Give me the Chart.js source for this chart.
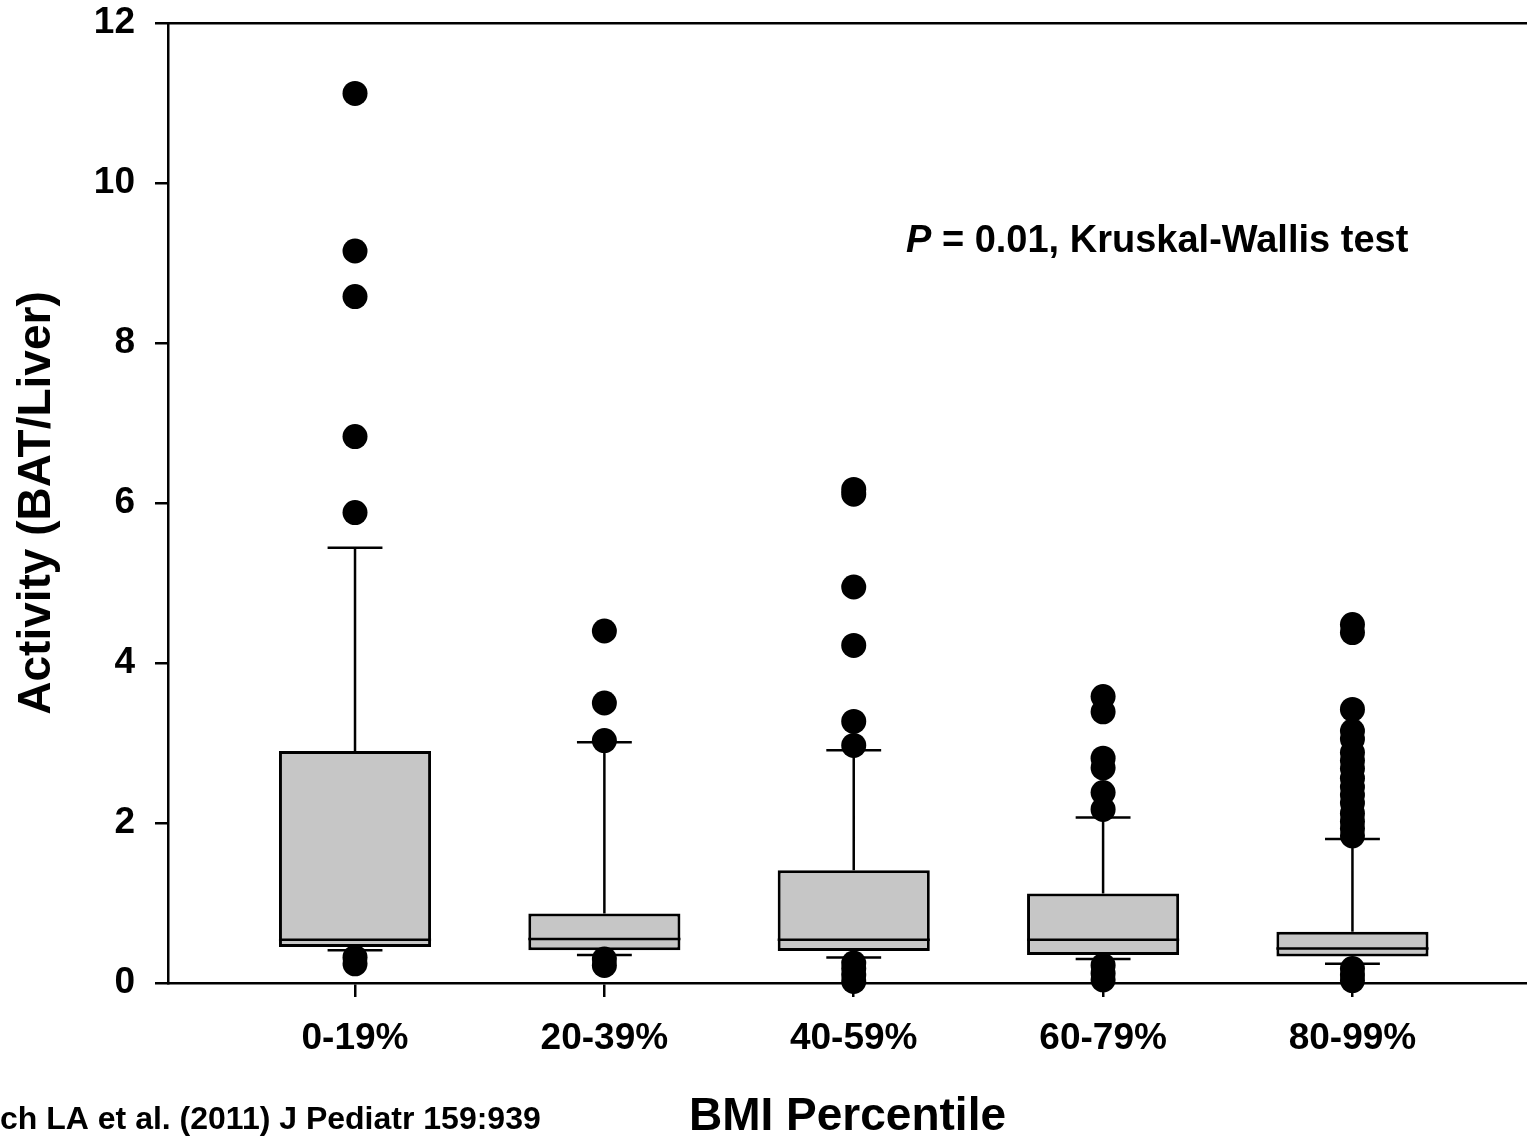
<!DOCTYPE html>
<html>
<head>
<meta charset="utf-8">
<script src="https://cdn.jsdelivr.net/npm/chart.js@4.4.1/dist/chart.umd.min.js"></script>
<style>
html, body { margin: 0; padding: 0; background: #fff; overflow: hidden; }
canvas { display: block; }
</style>
</head>
<body>
<canvas class="grafico" width="1527" height="1140"></canvas>
<script>
const canvas = document.querySelector('.grafico');

// box plot data
const categories = ['0-19%', '20-39%', '40-59%', '60-79%', '80-99%'];
const q1 = [0.45, 0.41, 0.40, 0.35, 0.33];
const medians = [0.54, 0.55, 0.54, 0.54, 0.43];
const q3 = [2.90, 0.87, 1.41, 1.12, 0.64];
const whiskerLow = [0.41, 0.35, 0.32, 0.30, 0.24];
const whiskerHigh = [5.44, 3.01, 2.91, 2.07, 1.80];

const outliers0 = [11.12, 9.15, 8.58, 6.83, 5.88, 0.32, 0.24];
const outliers1 = [4.40, 3.50, 3.03, 0.30, 0.22];
const outliers2 = [6.17, 6.11, 4.95, 4.22, 3.27, 2.97, 0.25, 0.18, 0.10, 0.02];
const outliers3 = [3.58, 3.39, 2.81, 2.69, 2.38, 2.17, 0.22, 0.12, 0.04];
const outliers4 = [4.48, 4.38, 3.42, 3.15, 3.05, 2.88, 2.78, 2.68, 2.56, 2.45, 2.35,
                   2.25, 2.12, 2.02, 1.93, 1.84, 0.18, 0.10, 0.03];
const outliers = [outliers0, outliers1, outliers2, outliers3, outliers4];

const yTicks = [0, 2, 4, 6, 8, 10, 12];

const fontFamily = "'Liberation Sans', Arial, sans-serif";
Chart.defaults.font.family = fontFamily;
Chart.defaults.font.weight = 'bold';
Chart.defaults.color = '#000';

const boxHalf = 0.305;
const capHalf = 0.11;

// whiskers and caps as line segments with gaps
const whiskerData = [];
categories.forEach((c, i) => {
    const x = i + 1;
    whiskerData.push({ x: x, y: q3[i] }, { x: x, y: whiskerHigh[i] }, { x: x, y: null });
    whiskerData.push({ x: x - capHalf, y: whiskerHigh[i] }, { x: x + capHalf, y: whiskerHigh[i] }, { x: x, y: null });
    whiskerData.push({ x: x, y: q1[i] }, { x: x, y: whiskerLow[i] }, { x: x, y: null });
    whiskerData.push({ x: x - capHalf, y: whiskerLow[i] }, { x: x + capHalf, y: whiskerLow[i] }, { x: x, y: null });
});

const medianData = [];
medians.forEach((m, i) => {
    const x = i + 1;
    medianData.push({ x: x - boxHalf, y: m }, { x: x + boxHalf, y: m }, { x: x, y: null });
});

const outlierData = [];
outliers.forEach((list, i) => {
    list.forEach((v) => outlierData.push({ x: i + 1, y: v }));
});

const textos = {
    id: 'textos',
    afterDraw(chart) {
        const ctx = chart.ctx;
        ctx.save();
        ctx.fillStyle = '#000';
        ctx.textBaseline = 'middle';
        ctx.textAlign = 'left';
        ctx.font = `italic bold 38px ${fontFamily}`;
        let x = 906;
        ctx.fillText('P', x, 242);
        x += ctx.measureText('P').width;
        ctx.font = `bold 38px ${fontFamily}`;
        ctx.fillText(' = 0.01, Kruskal-Wallis test', x, 242);
        ctx.font = `bold 32px ${fontFamily}`;
        ctx.fillText('ch LA et al. (2011) J Pediatr 159:939', 0, 1120);
        ctx.restore();
    }
};

const axisLine = { display: true, color: '#000', width: 2.5 };

// no extra label padding, so the plot box sits where the figure has it
const noPad = (s) => {
    s.paddingTop = 0;
    s.paddingBottom = 0;
    s.paddingLeft = 0;
    s.paddingRight = 0;
};

const config = {
    type: 'bar',
    data: {
        datasets: [
            {
                type: 'scatter',
                data: outlierData,
                backgroundColor: '#000',
                borderWidth: 0,
                pointRadius: 12.5,
                pointHoverRadius: 12.5,
                clip: false,
                order: 0
            },
            {
                type: 'line',
                data: medianData,
                borderColor: '#000',
                borderWidth: 2.5,
                pointRadius: 0,
                spanGaps: false,
                order: 1
            },
            {
                type: 'bar',
                data: categories.map((c, i) => ({ x: i + 1, y: [q1[i], q3[i]] })),
                backgroundColor: '#c6c6c6',
                borderColor: '#000',
                borderWidth: 3,
                borderSkipped: false,
                barPercentage: 0.61,
                categoryPercentage: 1,
                order: 2
            },
            {
                type: 'line',
                data: whiskerData,
                borderColor: '#000',
                borderWidth: 2.5,
                pointRadius: 0,
                spanGaps: false,
                order: 3
            }
        ]
    },
    options: {
        responsive: false,
        maintainAspectRatio: false,
        devicePixelRatio: 1,
        animation: false,
        events: [],
        layout: { padding: 0, autoPadding: false },
        plugins: {
            legend: { display: false },
            tooltip: { enabled: false }
        },
        scales: {
            x: {
                type: 'linear',
                position: 'bottom',
                min: 0.25,
                max: 5.70,
                offset: false,
                afterBuildTicks: (s) => { s.ticks = categories.map((c, i) => ({ value: i + 1 })); },
                afterFit: (s) => { s.height = 157; noPad(s); },
                ticks: {
                    callback: (v) => categories[v - 1],
                    font: { size: 37, weight: 'bold' },
                    padding: 20,
                    maxRotation: 0,
                    autoSkip: false
                },
                grid: { display: true, offset: false, drawOnChartArea: false, drawTicks: true, tickLength: 14, color: '#000', lineWidth: 2.5 },
                border: axisLine,
                title: {
                    display: true,
                    text: 'BMI Percentile',
                    font: { size: 46, weight: 'bold', lineHeight: 1 },
                    padding: { top: 0, bottom: 0 }
                }
            },
            x2: {
                type: 'linear',
                position: 'top',
                min: 0.25,
                max: 5.70,
                ticks: { display: false },
                grid: { display: false },
                border: axisLine,
                afterFit: (s) => { s.height = 23; noPad(s); }
            },
            y: {
                min: 0,
                max: 12,
                afterBuildTicks: (s) => { s.ticks = yTicks.map((v) => ({ value: v })); },
                afterFit: (s) => { s.width = 168; noPad(s); },
                ticks: { font: { size: 37, weight: 'bold' }, padding: 20 },
                grid: { drawOnChartArea: false, tickLength: 13, color: '#000', lineWidth: 2.5 },
                border: axisLine,
                title: {
                    display: true,
                    text: 'Activity (BAT/Liver)',
                    font: { size: 46, weight: 'bold', lineHeight: 1 },
                    padding: { top: 14, bottom: 0 }
                }
            }
        }
    },
    plugins: [textos]
};

new Chart(canvas, config);
</script>
</body>
</html>
